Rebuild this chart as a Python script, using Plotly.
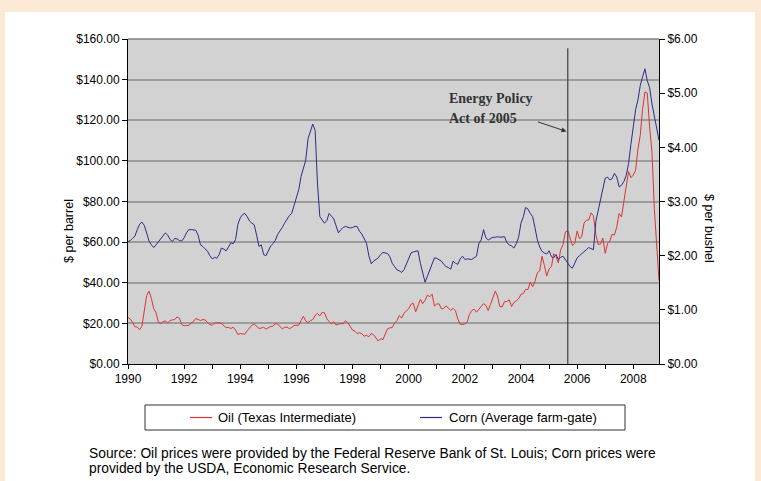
import plotly.graph_objects as go
import pandas as pd

# Monthly data, Jan 1990 - Dec 2008
months = pd.date_range("1990-01-01", "2008-12-01", freq="MS").strftime("%Y-%m-%d").tolist()

oil = [
    22.9, 22.1, 20.4, 18.4, 18.2, 16.9, 18.6, 27.2, 33.7, 35.9, 32.3, 27.3,   # 1990
    25.2, 20.5, 19.9, 20.8, 21.2, 20.2, 21.4, 21.7, 21.9, 23.2, 22.5, 19.5,   # 1991
    18.8, 19.0, 18.9, 20.2, 20.9, 22.4, 21.8, 21.4, 21.9, 21.7, 20.3, 19.4,   # 1992
    19.1, 20.1, 20.3, 20.3, 19.9, 19.1, 17.9, 18.0, 17.5, 18.1, 16.7, 14.5,   # 1993
    15.0, 14.8, 14.7, 16.4, 17.9, 19.1, 19.7, 18.4, 17.5, 17.7, 18.1, 17.2,   # 1994
    18.0, 18.5, 18.6, 19.9, 19.7, 18.4, 17.3, 18.0, 18.2, 17.4, 18.0, 19.0,   # 1995
    18.9, 19.1, 21.3, 23.5, 21.2, 20.4, 21.3, 21.9, 23.9, 24.9, 23.7, 25.4,   # 1996
    25.2, 22.2, 21.0, 19.7, 20.8, 19.2, 19.6, 19.9, 19.8, 21.3, 20.2, 18.3,   # 1997
    16.7, 16.1, 15.0, 15.4, 14.9, 13.7, 14.1, 13.4, 15.0, 14.4, 12.9, 11.3,   # 1998
    12.5, 12.0, 14.7, 17.3, 17.8, 17.9, 20.1, 21.3, 23.9, 22.6, 25.0, 26.1,   # 1999
    27.2, 29.4, 29.9, 25.7, 28.8, 31.8, 29.7, 31.3, 33.9, 33.1, 34.4, 28.5,   # 2000
    29.6, 29.6, 27.2, 27.4, 28.6, 27.6, 26.4, 27.4, 26.2, 22.2, 19.6, 19.4,   # 2001
    19.7, 20.7, 24.4, 26.3, 27.0, 25.5, 26.9, 28.4, 29.7, 28.9, 26.3, 29.4,   # 2002
    32.9, 35.9, 33.5, 28.3, 28.1, 30.7, 30.8, 31.6, 28.3, 30.3, 31.1, 32.1,   # 2003
    34.3, 34.7, 36.7, 36.7, 40.3, 38.0, 40.7, 44.9, 45.9, 53.1, 48.5, 43.3,   # 2004
    46.8, 48.0, 54.3, 53.0, 49.8, 56.3, 58.7, 65.0, 65.6, 62.4, 58.3, 59.4,   # 2005
    65.5, 61.6, 62.7, 69.4, 70.8, 70.9, 74.4, 73.0, 63.8, 58.9, 59.1, 62.0,   # 2006
    54.5, 59.3, 60.4, 63.9, 63.5, 67.5, 74.1, 72.4, 79.9, 85.8, 94.8, 91.7,   # 2007
    93.0, 95.4, 105.5, 112.6, 125.4, 133.9, 133.4, 116.7, 104.1, 76.6, 57.3, 41.1,  # 2008
]

corn = [
    2.26, 2.28, 2.32, 2.36, 2.48, 2.58, 2.62, 2.56, 2.42, 2.27, 2.20, 2.15,   # 1990
    2.20, 2.26, 2.30, 2.36, 2.42, 2.38, 2.30, 2.26, 2.32, 2.31, 2.28, 2.27,   # 1991
    2.33, 2.42, 2.48, 2.48, 2.48, 2.47, 2.38, 2.20, 2.17, 2.12, 2.08, 2.00,   # 1992
    1.94, 1.97, 1.95, 2.02, 2.14, 2.12, 2.09, 2.16, 2.24, 2.22, 2.30, 2.58,   # 1993
    2.70, 2.76, 2.78, 2.72, 2.64, 2.60, 2.57, 2.38, 2.17, 2.20, 2.02, 2.00,   # 1994
    2.08, 2.18, 2.22, 2.28, 2.39, 2.45, 2.52, 2.60, 2.68, 2.74, 2.78, 2.92,   # 1995
    3.06, 3.22, 3.46, 3.60, 3.76, 4.16, 4.30, 4.43, 4.31, 3.34, 2.72, 2.65,   # 1996
    2.60, 2.65, 2.78, 2.73, 2.68, 2.55, 2.42, 2.48, 2.52, 2.54, 2.52, 2.51,   # 1997
    2.52, 2.54, 2.54, 2.45, 2.40, 2.32, 2.23, 2.00, 1.85, 1.90, 1.93, 1.96,   # 1998
    2.02, 2.06, 2.05, 2.04, 1.98, 1.86, 1.80, 1.74, 1.72, 1.69, 1.74, 1.84,   # 1999
    1.92, 2.05, 2.07, 2.08, 2.09, 1.86, 1.66, 1.51, 1.62, 1.74, 1.86, 1.96,   # 2000
    1.95, 1.92, 1.90, 1.84, 1.80, 1.78, 1.75, 1.90, 1.86, 1.84, 1.94, 1.99,   # 2001
    1.93, 1.94, 1.93, 1.93, 1.96, 1.99, 2.22, 2.29, 2.48, 2.33, 2.29, 2.32,   # 2002
    2.34, 2.34, 2.35, 2.34, 2.35, 2.35, 2.24, 2.20, 2.18, 2.14, 2.22, 2.34,   # 2003
    2.60, 2.72, 2.89, 2.86, 2.78, 2.72, 2.52, 2.29, 2.16, 2.08, 2.05, 2.03,   # 2004
    2.09, 1.98, 1.96, 2.02, 1.93, 1.97, 1.99, 1.92, 1.86, 1.80, 1.77, 1.88,   # 2005
    1.96, 2.00, 2.03, 2.08, 2.11, 2.15, 2.13, 2.11, 2.63, 2.82, 3.00, 3.22,   # 2006
    3.43, 3.45, 3.40, 3.42, 3.52, 3.45, 3.27, 3.30, 3.37, 3.48, 3.70, 4.05,   # 2007
    4.41, 4.70, 4.87, 5.14, 5.30, 5.45, 5.23, 5.10, 4.80, 4.56, 4.30, 4.13,   # 2008
]

oil_name = "Oil (Texas Intermediate)"
corn_name = "Corn (Average farm-gate)"
policy_date = "2005-09-01"
policy_text = ["Energy Policy", "Act of 2005"]
source_lines = [
    "Source: Oil prices were provided by the Federal Reserve Bank of St. Louis; Corn prices were",
    "provided by the USDA, Economic Research Service.",
]

W, H = 761, 481
L, R, T, B = 128, 102, 39, 117
PW, PH = W - L - R, H - T - B

def px(x):
    return (x - L) / PW

def py(y):
    return (H - B - y) / PH

PEACH = "#FDEAD6"
OIL_C = "#dd3333"
CORN_C = "#2b2b8c"
FONT = "Liberation Sans, Arial, sans-serif"
SERIF = "Liberation Serif, Times New Roman, serif"

fig = go.Figure()
fig.add_trace(go.Scatter(x=months, y=oil, mode="lines", name=oil_name,
                         line=dict(color=OIL_C, width=1), yaxis="y", showlegend=False))
fig.add_trace(go.Scatter(x=months, y=corn, mode="lines", name=corn_name,
                         line=dict(color=CORN_C, width=1), yaxis="y2", showlegend=False))

shapes = [
    # peach frame
    dict(type="rect", xref="paper", yref="paper", x0=px(0), x1=px(W), y0=py(12), y1=py(0),
         fillcolor=PEACH, line_width=0, layer="below"),
    dict(type="rect", xref="paper", yref="paper", x0=px(0), x1=px(5), y0=py(H), y1=py(0),
         fillcolor=PEACH, line_width=0, layer="below"),
    dict(type="rect", xref="paper", yref="paper", x0=px(755), x1=px(W), y0=py(H), y1=py(0),
         fillcolor=PEACH, line_width=0, layer="below"),
    # top edge of plot area
    dict(type="line", xref="paper", yref="paper", x0=0, x1=1, y0=1, y1=1,
         line=dict(color="#808080", width=1.5)),
    # policy vertical line
    dict(type="line", xref="x", yref="y", x0=policy_date, x1=policy_date, y0=0, y1=155.5,
         line=dict(color="#404040", width=1.2)),
    # legend box
    dict(type="rect", xref="paper", yref="paper", x0=px(145), x1=px(625), y0=py(430), y1=py(405),
         line=dict(color="#303030", width=1), fillcolor="white"),
    dict(type="line", xref="paper", yref="paper", x0=px(190), x1=px(212), y0=py(417.5), y1=py(417.5),
         line=dict(color=OIL_C, width=1.2)),
    dict(type="line", xref="paper", yref="paper", x0=px(420), x1=px(442), y0=py(417.5), y1=py(417.5),
         line=dict(color=CORN_C, width=1.2)),
]

annotations = [
    dict(text="<b>" + policy_text[0] + "</b>", xref="paper", yref="paper", x=px(447), y=py(98),
         xanchor="left", yanchor="middle", showarrow=False,
         font=dict(family=SERIF, size=14, color="#333333")),
    dict(text="<b>" + policy_text[1] + "</b>", xref="paper", yref="paper", x=px(447), y=py(118),
         xanchor="left", yanchor="middle", showarrow=False,
         font=dict(family=SERIF, size=14, color="#333333")),
    dict(text="", xref="x", yref="y", x="2005-08-15", y=114.5, ax=-30, ay=-10,
         showarrow=True, arrowhead=2, arrowsize=1, arrowwidth=1, arrowcolor="#333333"),
    dict(text="$ per barrel", xref="paper", yref="paper", x=px(60), y=py(231), textangle=-90,
         showarrow=False, font=dict(family=FONT, size=12.5, color="black")),
    dict(text="$ per bushel", xref="paper", yref="paper", x=px(718), y=py(228), textangle=90,
         showarrow=False, font=dict(family=FONT, size=12.5, color="black")),
    dict(text=oil_name, xref="paper", yref="paper", x=px(216), y=py(417.5), xanchor="left",
         yanchor="middle", showarrow=False, font=dict(family=FONT, size=13, color="black")),
    dict(text=corn_name, xref="paper", yref="paper", x=px(447), y=py(417.5), xanchor="left",
         yanchor="middle", showarrow=False, font=dict(family=FONT, size=13, color="black")),
    dict(text=source_lines[0], xref="paper", yref="paper", x=px(87), y=py(453), xanchor="left",
         yanchor="middle", showarrow=False, font=dict(family=FONT, size=13.8, color="black")),
    dict(text=source_lines[1], xref="paper", yref="paper", x=px(87), y=py(468), xanchor="left",
         yanchor="middle", showarrow=False, font=dict(family=FONT, size=13.8, color="black")),
]

fig.update_layout(
    width=W, height=H,
    margin=dict(l=L, r=R, t=T, b=B, pad=0),
    paper_bgcolor="white",
    plot_bgcolor="#D2D2D2",
    font=dict(family=FONT, size=12, color="black"),
    showlegend=False,
    shapes=shapes,
    annotations=annotations,
    xaxis=dict(
        type="date", range=["1990-01-01", "2008-12-01"],
        dtick="M24", tick0="1990-01-01", tickformat="%Y",
        ticks="outside", ticklen=4, tickcolor="black", showgrid=False,
        showline=True, linecolor="black", linewidth=1,
        minor=dict(dtick="M12", ticks="outside", ticklen=4, tickcolor="black", showgrid=False),
        tickfont=dict(size=12), zeroline=False,
    ),
    yaxis=dict(
        range=[0, 160], dtick=20, tickprefix="$", tickformat=".2f",
        ticks="outside", ticklen=5, tickcolor="black",
        showgrid=True, gridcolor="#9c9c9c", gridwidth=2,
        showline=True, linecolor="black", linewidth=1, zeroline=False,
        tickfont=dict(size=12),
    ),
    yaxis2=dict(
        range=[0, 6], dtick=1, tickprefix="$", tickformat=".2f",
        overlaying="y", side="right",
        ticks="outside", ticklen=5, tickcolor="black", showgrid=False,
        showline=True, linecolor="black", linewidth=1, zeroline=False,
        tickfont=dict(size=12),
    ),
)

fig.write_html(
    "out.html",
    config={"displayModeBar": False},
    post_script="document.body.style.margin='0';document.body.style.overflow='hidden';",
)
